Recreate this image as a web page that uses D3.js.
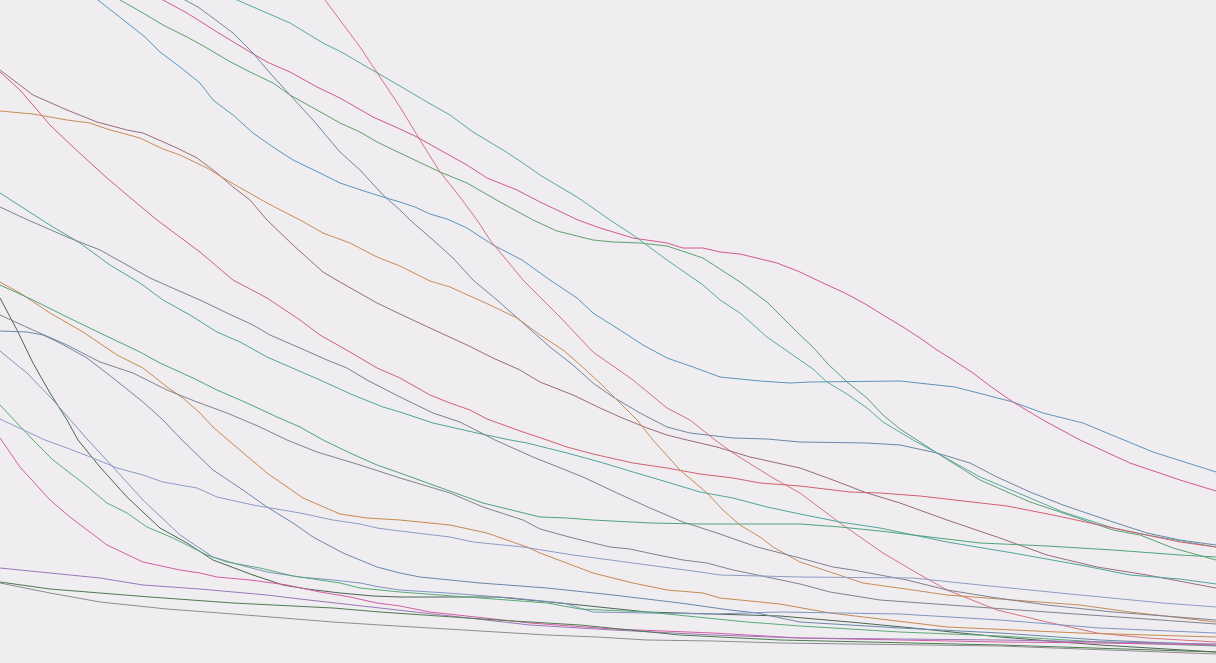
<!DOCTYPE html>
<html>
<head>
<meta charset="utf-8">
<script src="https://cdn.jsdelivr.net/npm/d3@7"></script>
<style>
  html, body { margin: 0; padding: 0; background: #efedf0; }
  svg { display: block; }
</style>
</head>
<body>
<svg id="chart" width="1216" height="663"></svg>
<script>
// Each series: [time, value] pairs
const seriesA = [[79,678],[98,663],[145,626],[160,611],[180,596],[200,580],[213,563],[233,548],[253,530],[273,516],[293,503],[320,490],[340,480],[367,471],[383,466],[400,461],[415,456],[430,449],[447,444],[467,435],[493,418],[522,403],[550,383],[577,365],[593,350],[620,333],[643,318],[667,305],[693,296],[720,286],[760,282],[790,280],[810,281],[900,282],[955,276],[1013,261],[1043,250],[1083,240],[1107,230],[1153,211],[1216,191],[1230,186]];
const seriesB = [[100,674],[120,663],[143,650],[163,638],[187,626],[207,615],[227,603],[250,591],[273,580],[290,568],[317,553],[340,540],[360,531],[377,521],[400,510],[440,491],[467,480],[500,461],[533,443],[557,432],[593,423],[613,421],[640,420],[667,417],[703,405],[740,381],[767,361],[800,328],[813,316],[827,300],[847,281],[867,265],[883,248],[900,234],[917,223],[937,210],[980,183],[1030,161],[1063,150],[1113,133],[1140,128],[1173,115],[1216,103],[1230,99]];
const seriesC = [[140,675],[163,663],[187,650],[217,631],[250,611],[267,601],[290,591],[317,576],[340,565],[373,546],[400,534],[417,526],[440,513],[467,498],[487,485],[517,473],[540,461],[578,443],[600,435],[633,425],[667,420],[683,415],[703,415],[720,411],[740,409],[777,400],[800,391],[823,380],[847,369],[867,358],[883,348],[903,336],[920,325],[937,313],[953,303],[973,290],[990,277],[1013,261],[1043,243],[1080,223],[1130,200],[1180,183],[1216,172],[1230,167]];
const seriesD = [[165,673],[185,663],[198,656],[213,645],[233,630],[253,610],[270,590],[290,568],[313,543],[340,511],[360,493],[383,468],[400,453],[410,443],[433,423],[453,405],[473,383],[497,363],[523,340],[550,316],[573,298],[593,280],[613,266],[640,250],[667,236],[690,230],[733,225],[767,224],[800,221],[867,220],[900,218],[937,210],[970,200],[997,186],[1030,171],[1063,158],[1113,141],[1147,130],[1180,123],[1216,118],[1230,116]];
const seriesE = [[214,673],[237,663],[267,650],[290,640],[323,620],[343,610],[367,596],[400,577],[427,561],[450,548],[473,531],[503,513],[523,500],[540,488],[560,476],[577,466],[593,455],[610,443],[633,428],[667,403],[703,378],[720,363],[740,350],[767,326],[800,303],[813,294],[827,281],[847,269],[867,255],[883,241],[913,223],[937,210],[980,186],[1030,165],[1063,151],[1113,135],[1147,128],[1216,116],[1230,114]];
const seriesF = [[315,676],[325,663],[360,616],[400,556],[420,523],[440,491],[460,466],[477,443],[490,423],[523,383],[560,346],[593,311],[633,283],[667,255],[690,243],[715,223],[733,210],[773,185],[800,170],[840,140],[883,110],[917,90],[947,73],[997,53],[1047,41],[1097,30],[1147,25],[1216,21]];
const seriesG = [[0,593],[33,568],[67,553],[97,541],[127,533],[143,530],[177,515],[197,505],[217,490],[233,476],[250,463],[267,443],[293,418],[323,391],[340,381],[377,360],[400,349],[430,335],[467,318],[493,305],[520,293],[540,281],[573,268],[600,255],[620,246],[647,235],[667,228],[687,223],[717,216],[750,206],[800,195],[833,183],[867,170],[900,160],[947,143],[997,126],[1047,108],[1097,96],[1147,88],[1216,75]];
const seriesH = [[0,591],[20,573],[50,538],[73,516],[107,485],[133,463],[157,443],[200,411],[233,383],[267,365],[300,343],[320,328],[350,311],[377,295],[400,285],[430,268],[450,260],[470,253],[487,244],[523,231],[547,223],[567,216],[593,209],[633,200],[667,195],[700,189],[733,185],[760,180],[800,177],[850,171],[880,170],[920,167],[1007,157],[1053,148],[1113,135],[1180,121],[1216,116]];
const seriesI = [[0,552],[33,549],[67,543],[90,540],[107,534],[140,525],[163,514],[180,508],[207,495],[230,481],[267,460],[300,443],[323,430],[350,420],[377,406],[400,397],[430,382],[450,376],[490,358],[517,345],[540,328],[563,313],[577,301],[600,280],[620,260],[637,243],[653,223],[680,193],[707,170],[723,153],[740,138],[760,126],[773,116],[800,101],[833,90],[863,80],[913,73],[947,68],[1013,63],[1080,58],[1130,51],[1216,41]];
const seriesJ = [[0,470],[42,443],[53,436],[80,420],[110,398],[140,380],[163,363],[190,348],[217,331],[240,321],[267,306],[290,296],[320,283],[353,268],[383,256],[400,251],[433,240],[477,230],[510,223],[527,220],[567,210],[600,201],[633,191],[667,181],[700,171],[733,165],[767,156],[800,149],[840,141],[880,135],[947,121],[1013,110],[1080,98],[1130,88],[1180,84],[1216,79]];
const seriesK = [[0,456],[28,443],[67,426],[100,413],[127,398],[150,385],[177,373],[200,363],[227,350],[253,338],[270,328],[300,315],[327,303],[347,295],[367,283],[400,266],[433,250],[460,241],[495,223],[533,206],[583,186],[617,170],[650,155],[683,141],[717,130],[757,116],[800,105],[833,96],[853,93],[907,83],[947,73],[997,65],[1047,58],[1113,51],[1216,43]];
const seriesL = [[0,381],[20,370],[50,350],[83,331],[117,308],[143,295],[167,276],[183,265],[200,250],[213,236],[228,223],[267,190],[303,165],[340,149],[367,145],[400,143],[450,138],[487,130],[527,116],[540,110],[593,90],[633,80],[667,73],[703,70],[720,65],[780,59],[830,50],[947,36],[1080,30],[1216,26]];
const seriesM = [[0,378],[33,363],[67,346],[100,330],[140,311],[160,300],[193,285],[217,273],[247,260],[277,246],[300,236],[323,223],[350,210],[377,198],[400,190],[433,178],[483,160],[540,146],[567,145],[593,143],[650,140],[700,139],[800,139],[840,136],[880,132],[930,126],[980,120],[1047,117],[1113,113],[1180,108],[1216,106]];
const seriesN = [[0,365],[17,333],[33,300],[50,270],[67,243],[78,223],[100,196],[127,166],[160,135],[187,120],[213,103],[253,88],[283,78],[307,74],[340,70],[373,67],[400,66],[497,66],[580,58],[647,51],[713,49],[780,47],[850,41],[913,35],[1000,26],[1100,18],[1216,11]];
const seriesO = [[0,348],[33,333],[67,318],[100,301],[133,290],[167,273],[197,261],[227,250],[260,236],[287,223],[317,211],[360,198],[400,185],[450,170],[483,156],[523,143],[540,134],[573,125],[610,116],[630,114],[653,109],[683,103],[707,100],[733,93],[767,86],[800,79],[830,71],[880,63],[963,57],[1047,51],[1147,44],[1216,39]];
const seriesP = [[0,332],[27,331],[43,328],[60,320],[87,305],[113,285],[143,261],[163,243],[182,223],[213,193],[240,175],[267,156],[293,140],[313,126],[343,110],[377,96],[400,90],[420,86],[480,80],[547,75],[613,68],[680,60],[730,53],[757,50],[800,41],[900,35],[1000,30],[1100,23],[1216,18]];
const seriesQ = [[0,312],[27,290],[53,263],[73,240],[88,223],[113,196],[143,163],[180,128],[213,106],[240,98],[267,91],[300,86],[333,83],[360,80],[380,76],[400,73],[447,70],[513,65],[563,60],[593,51],[647,50],[713,49],[780,51],[900,49],[1000,43],[1100,35],[1216,30]];
const seriesR = [[0,258],[33,223],[53,203],[83,180],[107,160],[127,150],[147,136],[173,125],[207,108],[227,101],[260,95],[293,87],[340,80],[360,75],[400,71],[480,65],[547,60],[580,54],[647,51],[697,46],[747,41],[800,37],[900,31],[1000,27],[1100,21],[1216,17]];
const seriesS = [[0,244],[45,223],[67,215],[93,205],[117,195],[143,188],[163,181],[197,175],[217,166],[253,158],[300,150],[333,143],[360,139],[377,135],[400,132],[450,126],[473,121],[523,116],[573,108],[633,100],[700,91],[720,88],[800,86],[913,85],[980,78],[1080,68],[1163,60],[1216,56]];
const seriesT = [[0,225],[20,196],[50,163],[70,146],[107,118],[143,101],[180,93],[200,90],[217,86],[250,83],[287,78],[320,71],[350,66],[377,60],[400,57],[430,51],[530,40],[613,34],[713,30],[800,25],[900,23],[1000,21],[1100,20],[1216,18]];
const seriesU = [[0,95],[100,85],[143,78],[200,74],[267,68],[300,64],[380,55],[530,38],[613,33],[713,28],[800,25],[1000,23],[1216,19]];
const seriesV = [[0,81],[50,74],[150,66],[233,60],[333,55],[380,51],[497,43],[580,38],[680,28],[780,23],[1000,18],[1216,11]];
const seriesW = [[0,80],[50,70],[100,61],[167,54],[233,49],[283,45],[333,41],[380,38],[480,32],[547,28],[597,26],[647,23],[713,22],[780,20],[1000,17],[1216,9]];

const seriesList = [seriesA, seriesB, seriesC, seriesD, seriesE, seriesF, seriesG, seriesH, seriesI, seriesJ, seriesK, seriesL, seriesM, seriesN, seriesO, seriesP, seriesQ, seriesR, seriesS, seriesT, seriesU, seriesV, seriesW];
const colors = ["#5b95bb", "#5ba170", "#d3588f", "#6d88a6", "#58a8a2", "#d6727f", "#9a6b7c", "#d2616f", "#c98b57", "#4fa59a", "#7e808f", "#c98950", "#50a47b", "#4b6650", "#80838f", "#6a88ab", "#8095c1", "#5aab79", "#8d9cc6", "#d65ca6", "#9a78b8", "#4d7b4d", "#8d8d8f"];

const width = 1216, height = 663;
const svg = d3.select("#chart");
svg.append("rect").attr("width", width).attr("height", height).attr("fill", "#efedf0");
svg.append("clipPath").attr("id", "clip").append("rect").attr("width", width).attr("height", height);

const x = d3.scaleLinear().domain([0, 1216]).range([0, width]);
const y = d3.scaleLinear().domain([0, 663]).range([height, 0]);

const line = d3.line().x(d => x(d[0])).y(d => y(d[1])).curve(d3.curveLinear);

svg.append("g").attr("clip-path", "url(#clip)")
  .selectAll("path").data(seriesList).join("path")
  .attr("d", line)
  .attr("fill", "none")
  .attr("stroke", (d, i) => colors[i])
  .attr("stroke-width", 1)
  .attr("stroke-linejoin", "round");
</script>
</body>
</html>
